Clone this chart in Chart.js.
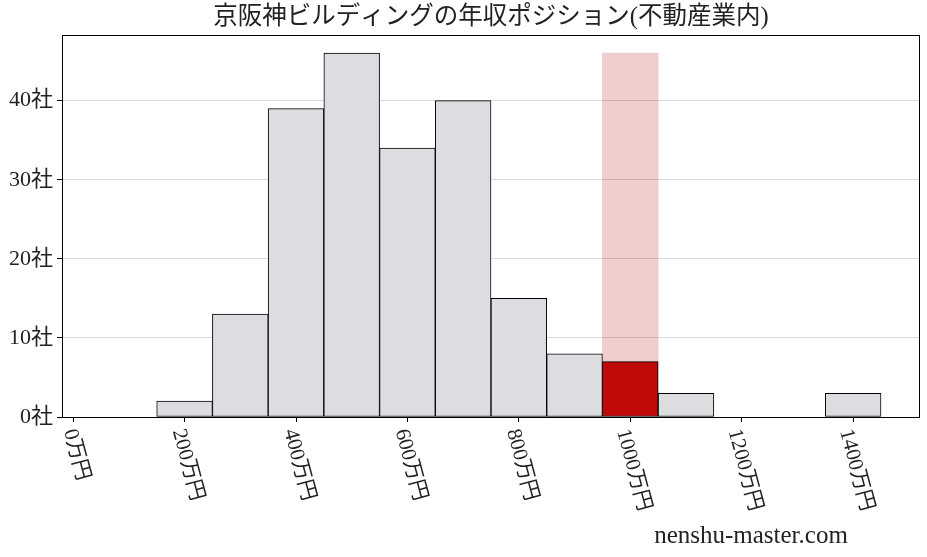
<!DOCTYPE html>
<html>
<head>
<meta charset="utf-8">
<script src="https://cdn.jsdelivr.net/npm/chart.js@4.4.0/dist/chart.umd.min.js"></script>
<style>
html, body { margin: 0; padding: 0; background: #fff; }
#wrap { width: 927px; height: 557px; position: relative; }
</style>
</head>
<body>
<div id="wrap"><canvas id="myChart"></canvas></div>
<script>
// bins are 100万円 wide, labelled by their centre
const binCenters = [200, 300, 400, 500, 600, 700, 800, 900, 1000, 1100, 1200, 1300, 1400];
const companyCounts = [2, 13, 39, 46, 34, 40, 15, 8, 7, 3, 0, 0, 3];
const highlightCenter = 1000;
const highlightHeight = 46;

const xTicks = [0, 200, 400, 600, 800, 1000, 1200, 1400];
const xTickLabels = ['0万円', '200万円', '400万円', '600万円', '800万円', '1000万円', '1200万円', '1400万円'];
const yTicks = [0, 10, 20, 30, 40];
const yTickLabels = ['0社', '10社', '20社', '30社', '40社'];

const titleText = '京阪神ビルディングの年収ポジション(不動産業内)';
const watermark = 'nenshu-master.com';

const FONT = "'Liberation Serif', 'Noto Sans CJK JP', serif";

const barColors = binCenters.map(c => c === highlightCenter ? '#c00a0a' : '#dcdde0');

const extras = {
    id: 'extras',
    afterDraw(chart) {
        const ctx = chart.ctx;
        const area = chart.chartArea;
        const xs = chart.scales.x;
        ctx.save();
        // frame
        ctx.strokeStyle = '#000';
        ctx.lineWidth = 1;
        ctx.strokeRect(Math.round(area.left) + 0.5, Math.round(area.top) + 0.5,
            Math.round(area.right - area.left) - 1, Math.round(area.bottom - area.top));

        ctx.fillStyle = '#222';
        // title
        ctx.font = '24.5px ' + FONT;
        ctx.textAlign = 'center';
        ctx.textBaseline = 'middle';
        ctx.fillText(titleText, (area.left + area.right) / 2, 18);

        // rotated x tick labels, reading downwards
        ctx.font = '21px ' + FONT;
        const theta = 75 * Math.PI / 180;
        const h = 19;
        for (let i = 0; i < xTicks.length; i++) {
            const px = xs.getPixelForValue(xTicks[i]);
            const L = ctx.measureText(xTickLabels[i]).width;
            const halfH = L / 2 * Math.sin(theta) + h / 2 * Math.cos(theta);
            ctx.save();
            ctx.translate(px + 3, area.bottom + 10 + halfH);
            ctx.rotate(theta);
            ctx.textAlign = 'center';
            ctx.textBaseline = 'middle';
            ctx.fillText(xTickLabels[i], 0, 0);
            ctx.restore();
        }

        // site name
        ctx.font = '25px ' + FONT;
        ctx.textAlign = 'center';
        ctx.textBaseline = 'middle';
        ctx.fillText(watermark, 751, 536);
        ctx.restore();
    }
};

const ctx = document.getElementById('myChart').getContext('2d');
const myChart = new Chart(ctx, {
    type: 'bar',
    data: {
        datasets: [
            {
                label: 'counts',
                data: binCenters.map((c, i) => ({x: c, y: companyCounts[i]})),
                backgroundColor: barColors,
                borderColor: '#000',
                borderWidth: 1,
                borderSkipped: false,
                barPercentage: 1,
                categoryPercentage: 1,
                grouped: false,
                order: 1
            },
            {
                label: 'highlight',
                data: [{x: highlightCenter, y: highlightHeight}],
                backgroundColor: 'rgba(185, 0, 0, 0.2)',
                borderWidth: 0,
                barPercentage: 1,
                categoryPercentage: 1,
                grouped: false,
                order: 2
            }
        ]
    },
    options: {
        responsive: true,
        maintainAspectRatio: false,
        animation: false,
        layout: {
            padding: {left: 0, right: 7, top: 35, bottom: 0}
        },
        plugins: {
            legend: {display: false},
            tooltip: {enabled: false},
            title: {display: false}
        },
        scales: {
            x: {
                type: 'linear',
                min: -20,
                max: 1520,
                offset: false,
                afterBuildTicks: scale => { scale.ticks = xTicks.map(v => ({value: v})); },
                afterFit: scale => { scale.height = 140; },
                ticks: {display: false},
                grid: {
                    offset: false,
                    drawOnChartArea: false,
                    drawTicks: true,
                    tickLength: 5,
                    tickColor: '#000'
                },
                border: {display: false}
            },
            y: {
                type: 'linear',
                min: 0,
                max: 48.3,
                afterBuildTicks: scale => { scale.ticks = yTicks.map(v => ({value: v})); },
                afterFit: scale => { scale.width = 62; },
                ticks: {
                    padding: 4,
                    color: '#222',
                    font: {family: FONT, size: 22},
                    callback: value => yTickLabels[yTicks.indexOf(value)]
                },
                grid: {
                    color: '#dadada',
                    lineWidth: 1,
                    tickLength: 5,
                    tickColor: '#000'
                },
                border: {display: false}
            }
        }
    },
    plugins: [extras]
});
</script>
</body>
</html>
